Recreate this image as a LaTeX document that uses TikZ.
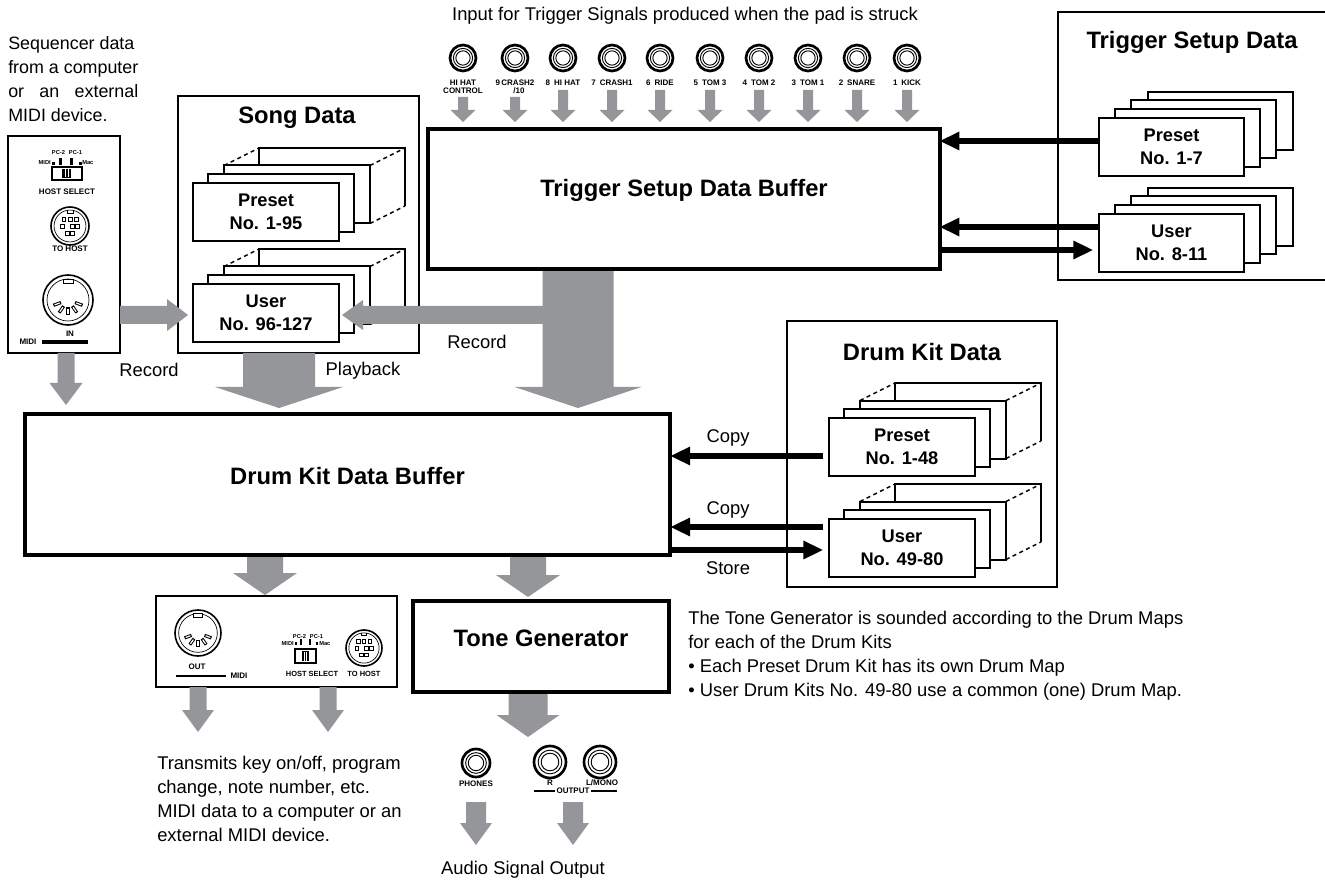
\documentclass[tikz,border=0pt]{standalone}
\usepackage{fontspec}
\setmainfont{Liberation Sans}
\usetikzlibrary{arrows.meta,fit,calc}
\definecolor{agray}{RGB}{148,150,153}

% gray block arrows: start, tip, shaft half width, head half width, head length (px)
\newcommand\gdown[5]{\fill[agray] let \p1=(#1), \p2=(#2) in
 ({\x1-#3*0.75pt},\y1) -- ({\x1+#3*0.75pt},\y1) -- ({\x1+#3*0.75pt},{\y2+#5*0.75pt}) --
 ({\x1+#4*0.75pt},{\y2+#5*0.75pt}) -- (\x1,\y2) -- ({\x1-#4*0.75pt},{\y2+#5*0.75pt}) --
 ({\x1-#3*0.75pt},{\y2+#5*0.75pt}) -- cycle;}
\newcommand\gleft[5]{\fill[agray] let \p1=(#1), \p2=(#2) in
 (\x1,{\y1+#3*0.75pt}) -- (\x1,{\y1-#3*0.75pt}) -- ({\x2+#5*0.75pt},{\y1-#3*0.75pt}) --
 ({\x2+#5*0.75pt},{\y1-#4*0.75pt}) -- (\x2,\y1) -- ({\x2+#5*0.75pt},{\y1+#4*0.75pt}) --
 ({\x2+#5*0.75pt},{\y1+#3*0.75pt}) -- cycle;}
\newcommand\gright[5]{\fill[agray] let \p1=(#1), \p2=(#2) in
 (\x1,{\y1+#3*0.75pt}) -- (\x1,{\y1-#3*0.75pt}) -- ({\x2-#5*0.75pt},{\y1-#3*0.75pt}) --
 ({\x2-#5*0.75pt},{\y1-#4*0.75pt}) -- (\x2,\y1) -- ({\x2-#5*0.75pt},{\y1+#4*0.75pt}) --
 ({\x2-#5*0.75pt},{\y1+#3*0.75pt}) -- cycle;}
% phone jack
\newcommand\jack[2]{\draw[line width=2pt, fill=white] (#1) circle [radius=#2];
 \draw[line width=0.7pt] (#1) circle [radius=#2*0.74];
 \draw[line width=0.7pt] (#1) circle [radius=#2*0.55];}
% 5-pin DIN
\newcommand\din[2]{\draw[line width=1.2pt, fill=white] (#1) circle [radius=#2];
 \draw[line width=0.5pt] (#1) circle [radius=#2*0.84];
 \draw[line width=0.5pt, fill=white] ($(#1)+(-#2*0.2,-#2*0.84)$) rectangle ($(#1)+(#2*0.2,-#2*0.66)$);
 \foreach \a in {20,55,90,125,160}{
  \draw[line width=2.4pt] ($(#1)+(\a:#2*0.3)$) -- ($(#1)+(\a:#2*0.62)$);
  \draw[white, line width=0.9pt] ($(#1)+(\a:#2*0.35)$) -- ($(#1)+(\a:#2*0.57)$);}}
% 8-pin mini DIN
\newcommand\mdin[2]{\draw[line width=1.2pt, fill=white] (#1) circle [radius=#2];
 \draw[line width=0.5pt] (#1) circle [radius=#2*0.84];
 \draw[line width=0.5pt] ($(#1)+(-#2*0.15,-#2*0.84)$) -- ($(#1)+(-#2*0.15,-#2*0.68)$) -- ($(#1)+(#2*0.15,-#2*0.68)$) -- ($(#1)+(#2*0.15,-#2*0.84)$);
 \foreach \px/\py in {-0.32/-0.36,0/-0.36,0.32/-0.36,-0.4/0.02,0.12/0.02,0.4/0.02,-0.14/0.38,0.14/0.38}
  \draw[line width=0.5pt] ($(#1)+(\px*#2-0.1*#2,\py*#2-0.1*#2)$) rectangle ++(0.2*#2,0.2*#2);}
% card stack with dashed depth (name, x, y of front top-left, text)
\newcommand\dstack[4]{%
 \draw[line width=1.5pt] (#2+67,#3-16.5) -- (#2+67,#3-34) -- (#2+213,#3-34) -- (#2+213,#3+24);
 \draw[cardd] (#2+32,#3-16.5) -- (#2+67,#3-34) (#2+178,#3-16.5) -- (#2+213,#3-34) (#2+178,#3+41.5) -- (#2+213,#3+24);
 \draw[card] (#2+32,#3-16.5) rectangle ++(146,58);
 \draw[card] (#2+16,#3-8) rectangle ++(146,58);
 \node[card, ctxt, inner sep=0pt, minimum width=109.5pt, minimum height=43.5pt, anchor=north west] (#1) at (#2,#3) {#4};}
% plain card stack
\newcommand\sstack[4]{%
 \draw[card] (#2+49.5,#3-24.5) rectangle ++(145,58);
 \draw[card] (#2+33,#3-16.5) rectangle ++(145,58);
 \draw[card] (#2+16.5,#3-8) rectangle ++(145,58);
 \node[card, ctxt, inner sep=0pt, minimum width=108.75pt, minimum height=43.5pt, anchor=north west] (#1) at (#2,#3) {#4};}

\begin{document}
\begin{tikzpicture}[x=0.75pt,y=-0.75pt,
 body/.style={font=\fontsize{13.8}{18}\selectfont, inner sep=0pt},
 ttl/.style={font=\fontsize{17.8}{21}\selectfont\bfseries, inner sep=0pt},
 ctxt/.style={font=\fontsize{13.7}{17.5}\selectfont\bfseries, align=center},
 tiny/.style={font=\fontsize{6}{6.2}\selectfont\bfseries, inner sep=0pt, align=center},
 micro/.style={font=\fontsize{4.3}{5}\selectfont\bfseries, inner sep=0pt},
 panel/.style={draw, line width=1.4pt, inner sep=0pt},
 box/.style={draw, line width=1.4pt, inner sep=0pt},
 buf/.style={draw, line width=3.2pt, inner sep=0pt},
 card/.style={draw, fill=white, line width=1.5pt},
 cardd/.style={line width=1.1pt, dash pattern=on 3pt off 2.6pt},
 blk/.style={line width=4.5pt, -{Triangle[length=15pt,width=13pt]}},
]
\useasboundingbox (0,0) rectangle (1325,884);
\fill[white] (0,0) rectangle (1325,884);

% ---------- free texts ----------
\node[body] (ttop) at (685,16) {Input for Trigger Signals produced when the pad is struck};
\node[font=\fontsize{13.4}{18}\selectfont, inner sep=0pt, anchor=north west, align=left] (seq) at (8,36)
 {Sequencer data\\from a computer\\\makebox[97.5pt][s]{or an external}\\MIDI device.};
\node[body, anchor=north west, align=left] (txmit) at (157,756)
 {Transmits key on/off, program\\change, note number, etc.\\MIDI data to a computer or an\\external MIDI device.};
\node[body] (aso) at (523,870) {Audio Signal Output};
\node[body, anchor=north west, align=left] (tgnote) at (688,611)
 {The Tone Generator is sounded according to the Drum Maps\\for each of the Drum Kits\\\textbullet\ Each Preset Drum Kit has its own Drum Map\\\textbullet\ User Drum Kits No. 49-80 use a common (one) Drum Map.};
\node[body] (rec1) at (149,370) {Record};
\node[body] (play) at (363,371) {Playback};
\node[body] (rec2) at (477,342) {Record};
\node[body] (copy1) at (728,438) {Copy};
\node[body] (copy2) at (728,510) {Copy};
\node[body] (store) at (728,568) {Store};

% ---------- MIDI IN panel ----------
\node[panel, fit={(8,136)(120,353)}] (inpanel) {};
\node[micro] (pcl) at (67,153) {PC-2\hspace{3pt}PC-1};
\node[micro, anchor=east] (midl) at (51,163) {MIDI};
\fill (52,162) rectangle (54.5,165);
\fill (59,158.5) rectangle (61.5,165);
\fill (70,158.5) rectangle (72.5,165);
\fill (79,162) rectangle (81.5,165);
\node[micro, anchor=west] (macl) at (82,163) {Mac};
\draw[line width=0.9pt, fill=white] (52,167) rectangle (82,180);
\fill (62,169) rectangle (71,178);
\draw[white, line width=0.35pt] (65,169.5) -- (65,177.5) (68,169.5) -- (68,177.5);
\node[tiny] (hsl) at (67,192) {HOST SELECT};
\mdin{70,226}{19}
\node[tiny] (thl) at (70,249) {TO HOST};
\din{68,300}{25}
\node[tiny] (inl) at (70,334) {IN};
\node[tiny] (midil) at (28,342) {MIDI};
\draw[line width=2.3pt] (42,342) -- (88,342);

% ---------- Song Data ----------
\node[box, fit={(178,96)(419,353)}] (sng) {};
\node[ttl] (sngt) at (297,118) {Song Data};
\dstack{spre}{192}{182}{Preset\\No. 1-95}
\dstack{suser}{192}{283}{User\\No. 96-127}

% ---------- Trigger Setup Data ----------
\node[box, fit={(1058,12)(1345,280)}] (tsd) {};
\node[ttl] (tsdt) at (1192,42) {Trigger Setup Data};
\sstack{tspre}{1098}{117}{Preset\\No. 1-7}
\sstack{tsuser}{1098}{213}{User\\No. 8-11}

% ---------- Drum Kit Data ----------
\node[box, fit={(787,321)(1057,587)}] (dkd) {};
\node[ttl] (dkdt) at (922,352) {Drum Kit Data};
\dstack{dpre}{828}{417}{Preset\\No. 1-48}
\dstack{duser}{828}{518}{User\\No. 49-80}

% ---------- MIDI OUT panel ----------
\node[panel, fit={(156,596)(397,687)}] (outpanel) {};
\din{198,633}{23}
\node[tiny] (outl) at (197,667) {OUT};
\draw[line width=2.2pt] (176,676) -- (226,676);
\node[tiny] (midir) at (239,676) {MIDI};
\node[micro] (pcr) at (308,636.5) {PC-2\hspace{3pt}PC-1};
\node[micro, anchor=east] (midr) at (294,644) {MIDI};
\fill (295,642) rectangle (297,645);
\fill (300,639) rectangle (302,645);
\fill (309,639) rectangle (311,645);
\fill (316,642) rectangle (318,645);
\node[micro, anchor=west] (macr) at (319,644) {Mac};
\draw[line width=0.9pt, fill=white] (295,649) rectangle (316,663);
\fill (302,651) rectangle (309,661);
\draw[white, line width=0.35pt] (304.5,651.5) -- (304.5,660.5) (306.5,651.5) -- (306.5,660.5);
\node[tiny, font=\fontsize{5.6}{6}\selectfont\bfseries] (hsr) at (312,674) {HOST SELECT};
\mdin{364,648}{18}
\node[tiny, font=\fontsize{5.6}{6}\selectfont\bfseries] (thr) at (364,674) {TO HOST};

% ---------- trigger input jacks ----------
\foreach \jx/\lab [count=\i] in {563/{8\enspace HI HAT},612/{7\enspace CRASH1},660/{6\enspace RIDE},710/{5\enspace TOM 3},759/{4\enspace TOM 2},808/{3\enspace TOM 1},857/{2\enspace SNARE},907/{1\enspace KICK}}{
 \coordinate (j\i) at (\jx,58);
 \jack{j\i}{13}
 \node[tiny] (jl\i) at (\jx,83) {\lab};
 \coordinate (ja\i) at (\jx,90);
 \coordinate (jb\i) at (\jx,122);
 \gdown{ja\i}{jb\i}{5}{12.5}{12}
}
\coordinate (jhc) at (463,58); \jack{jhc}{13}
\node[tiny] (jlhc) at (463,87) {HI HAT\\CONTROL};
\gdown{463,97}{463,122}{5}{12.5}{12}
\coordinate (jc2) at (515,58); \jack{jc2}{13}
\node[tiny] (jlc2) at (515,83) {9\,CRASH2};
\node[tiny] (jlc2b) at (519,91) {/10};
\gdown{515,97}{515,122}{5}{12.5}{12}

% ---------- output jacks ----------
\coordinate (jph) at (476,763); \jack{jph}{14}
\node[tiny] (phl) at (476,784) {PHONES};
\coordinate (jr) at (550,762); \jack{jr}{16}
\coordinate (jl) at (600,762); \jack{jl}{16}
\node[tiny] (rl) at (550,783) {R};
\node[tiny] (lml) at (602,783) {L/MONO};
\draw[line width=2.2pt] (534,791) -- (617,791);
\node[tiny, fill=white, inner xsep=1pt, inner ysep=0.5pt] (outputl) at (573,791) {OUTPUT};

% ---------- gray data-flow arrows ----------
\gright{120,315}{188,315}{9}{16}{21}
\gleft{578,315}{342,315}{9}{15}{21}
\gdown{66,353}{66,405}{8.5}{16.5}{22}
\gdown{279,353}{279,408}{36}{64}{21}
\gdown{578,269}{578,408}{35.5}{63.5}{21}
\gdown{265,555}{265,595}{18}{32}{22}
\gdown{528,555}{528,597}{18}{32}{22}
\gdown{198,687}{198,732}{8.5}{16}{22}
\gdown{328,687}{328,732}{8.5}{16}{22}
\gdown{528,692}{528,737}{19.5}{31.5}{22}
\gdown{476,802}{476,845}{10}{16}{22}
\gdown{573,802}{573,845}{10}{16}{22}

% ---------- buffers ----------
\node[buf, ttl, fit={(428,129)(940,269)}] (tsb) {Trigger Setup Data Buffer};
\node[buf, ttl, fit={(25,414)(670,555)}] (dkb) {Drum Kit Data Buffer};
\node[buf, ttl, fit={(413,601)(669,692)}] (tg) {Tone Generator};

% ---------- black arrows ----------
\coordinate (ta1) at ($(tspre.west)+(0,-6)$);
\draw[blk, shorten >=-2pt] (ta1) -- (ta1 -| tsb.east);
\coordinate (ta2) at ($(tsuser.west)+(0,-16)$);
\draw[blk, shorten >=-2pt] (ta2) -- (ta2 -| tsb.east);
\coordinate (ta3) at ($(tsuser.west)+(0,7)$);
\draw[blk, shorten >=3.5pt] (ta3 -| tsb.east) -- (ta3);
\coordinate (da1) at ($(dpre.west)+(0,9)$);
\draw[blk, shorten <=3.5pt, shorten >=-1.5pt] (da1) -- (da1 -| dkb.east);
\coordinate (da2) at ($(duser.west)+(0,-21)$);
\draw[blk, shorten <=3.5pt, shorten >=-1.5pt] (da2) -- (da2 -| dkb.east);
\coordinate (da3) at ($(duser.west)+(0,2)$);
\draw[blk, shorten >=3.5pt] (da3 -| dkb.east) -- (da3);
\end{tikzpicture}
\end{document}
